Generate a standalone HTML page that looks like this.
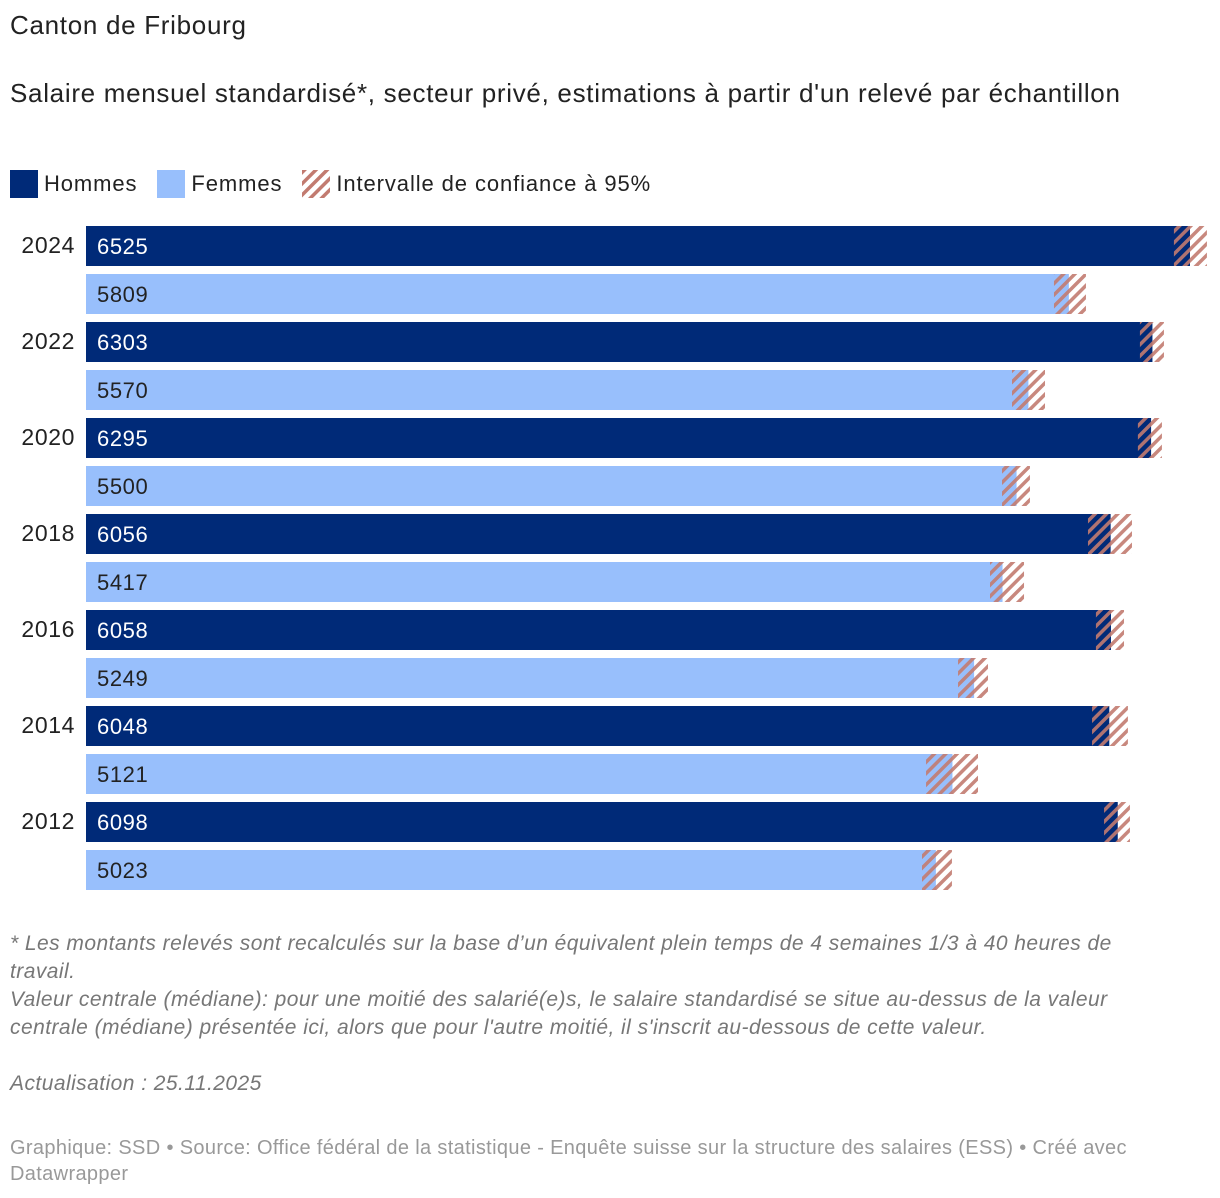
<!DOCTYPE html>
<html><head><meta charset="utf-8"><style>
body{margin:0;width:1220px;height:1198px;background:#fff;font-family:"Liberation Sans",sans-serif;color:#222;position:relative;overflow:hidden}
.t{position:absolute;left:10px;white-space:nowrap;letter-spacing:0.7px}
.note{position:absolute;left:10px;width:1180px;font-style:italic;color:#777;font-size:21px;letter-spacing:0.45px;line-height:28px}
.src{position:absolute;left:10px;width:1180px;color:#999;font-size:20px;letter-spacing:0.35px;line-height:26px}
.leg{position:absolute;top:170px;display:flex;align-items:center;font-size:22px;letter-spacing:0.9px}
.sw{width:28px;height:28px;margin-right:6px}
</style></head><body>
<div class="t" style="top:10px;font-size:26px">Canton de Fribourg</div>
<div class="t" style="top:78px;font-size:26px">Salaire mensuel standardisé*, secteur privé, estimations à partir d'un relevé par échantillon</div>
<div class="leg" style="left:10px">
 <div class="sw" style="background:#002a78"></div><span style="margin-right:20px">Hommes</span>
 <div class="sw" style="background:#98bffc"></div><span style="margin-right:20px">Femmes</span>
 <svg width="28" height="28" style="margin-right:6px"><defs><pattern id="hl" width="8" height="8" patternUnits="userSpaceOnUse" patternTransform="rotate(45)"><rect width="3.5" height="8" fill="#c27b70"/></pattern></defs><rect width="28" height="28" fill="url(#hl)"/></svg><span>Intervalle de confiance à 95%</span>
</div>
<svg id="chart" width="1220" height="900" style="position:absolute;left:0;top:0;letter-spacing:0.6px">
<defs><pattern id="h" width="8" height="8" patternUnits="userSpaceOnUse" patternTransform="rotate(45)"><rect width="3.5" height="8" fill="#c27b70" fill-opacity="0.9"/></pattern></defs>
</svg>
<div class="note" style="top:930px">* Les montants relevés sont recalculés sur la base d’un équivalent plein temps de 4 semaines 1/3 à 40 heures de<br>travail.<br>Valeur centrale (médiane): pour une moitié des salarié(e)s, le salaire standardisé se situe au-dessus de la valeur centrale (médiane) présentée ici, alors que pour l'autre moitié, il s'inscrit au-dessous de cette valeur.<br><br>Actualisation : 25.11.2025</div>
<div class="src" style="top:1135px">Graphique: SSD • Source: Office fédéral de la statistique - Enquête suisse sur la structure des salaires (ESS) • Créé avec Datawrapper</div>
<script>
const years=["2024","2022","2020","2018","2016","2014","2012"];
const hommes=[6525,6303,6295,6056,6058,6048,6098];
const femmes=[5809,5570,5500,5417,5249,5121,5023];
const hommesLow=[6430,6229,6217,5922,5969,5946,6017];
const hommesHigh=[6625,6371,6359,6182,6135,6158,6170];
const femmesLow=[5721,5473,5414,5343,5154,4965,4941];
const femmesHigh=[5910,5668,5579,5544,5331,5272,5118];
const svg=document.getElementById('chart'),NS="http://www.w3.org/2000/svg";
const x0=86,k=1104/6525;
const sx=v=>x0+v*k;
function mk(t,a){const e=document.createElementNS(NS,t);for(const n in a)e.setAttribute(n,a[n]);svg.appendChild(e);return e;}
years.forEach((y,i)=>{
 const ty=226+i*96;
 const lbl=mk('text',{x:75,y:ty+27,'text-anchor':'end','font-size':23,fill:'#222'});lbl.textContent=y;
 
 
 [[hommes,hommesLow,hommesHigh,'#002a78','#fff','hommes'],[femmes,femmesLow,femmesHigh,'#98bffc','#222','femmes']].forEach((s,j)=>{
  const by=ty+j*48;
  const r=mk('rect',{x:x0,y:by,width:sx(s[0][i])-x0,height:40,fill:s[3]});
  
  
  const c=mk('rect',{x:sx(s[1][i]),y:by,width:sx(s[2][i])-sx(s[1][i]),height:40,fill:'url(#h)'});
  
  
  const t=mk('text',{x:97,y:by+28,'font-size':22,fill:s[4]});t.textContent=s[0][i];
  
  
 });
});
</script>
</body></html>
